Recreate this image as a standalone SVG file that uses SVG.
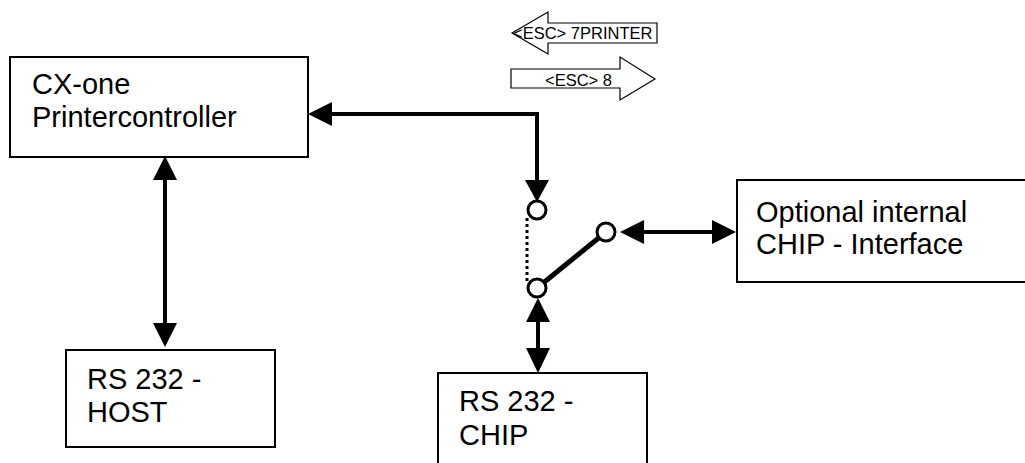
<svg xmlns="http://www.w3.org/2000/svg" width="1025" height="463" viewBox="0 0 1025 463">
<defs>
<style>
.box{fill:#fff;stroke:#000;stroke-width:2}
.t{font-family:"Liberation Sans",Arial,sans-serif;font-size:29px;fill:#000}
.s{font-family:"Liberation Sans",Arial,sans-serif;font-size:16.5px;fill:#000}
.ln{stroke:#000;stroke-width:4;fill:none}
.sw{fill:#fff;stroke:#000;stroke-width:3}
.ah{fill:#000}
.bl{fill:#fff;stroke:#000;stroke-width:1.2}
</style>
</defs>
<g id="cx-one">
<rect class="box" x="10" y="57" width="298" height="100"/>
<text class="t" x="32" y="94">CX-one</text>
<text class="t" x="32" y="127">Printercontroller</text>
</g>
<g id="rs232-host">
<rect class="box" x="66" y="350" width="209" height="97"/>
<text class="t" x="87" y="389">RS 232 -</text>
<text class="t" x="87" y="422">HOST</text>
</g>
<g id="rs232-chip">
<rect class="box" x="438" y="373" width="209" height="100"/>
<text class="t" x="459" y="411">RS 232 -</text>
<text class="t" x="459" y="445">CHIP</text>
</g>
<g id="optional">
<rect class="box" x="737" y="180" width="300" height="102"/>
<text class="t" x="756" y="222">Optional internal</text>
<text class="t" x="756" y="254">CHIP - Interface</text>
</g>
<g id="esc7">
<polygon class="bl" points="512,33 548,12 548,23 657,23 657,43 548,43 548,54"/>
<text class="s" x="513" y="39">&lt;ESC&gt; 7PRINTER</text>
</g>
<g id="esc8">
<polygon class="bl" points="511,69 620,69 620,57 655,79 620,100 620,88 511,88"/>
<text class="s" x="545" y="86">&lt;ESC&gt; 8</text>
</g>
<g id="connectors">
<line class="ln" x1="165" y1="178" x2="165" y2="325"/>
<polygon class="ah" points="165,156 153,180 177,180"/>
<polygon class="ah" points="165,347 153,323 177,323"/>
<polyline class="ln" points="330,114 537,114 537,182"/>
<polygon class="ah" points="308,114 332,102 332,126"/>
<polygon class="ah" points="537,202 525,180 549,180"/>
<line x1="527" y1="218" x2="527" y2="282" stroke="#000" stroke-width="3" stroke-dasharray="3,3"/>
<line x1="537" y1="288" x2="606" y2="232" stroke="#000" stroke-width="5"/>
<circle class="sw" cx="537" cy="210" r="9"/>
<circle class="sw" cx="537" cy="288" r="9"/>
<circle class="sw" cx="606" cy="232" r="9"/>
<line class="ln" x1="640" y1="232" x2="714" y2="232"/>
<polygon class="ah" points="620,232 644,220 644,244"/>
<polygon class="ah" points="736,232 712,220 712,244"/>
<line class="ln" x1="538" y1="318" x2="538" y2="352"/>
<polygon class="ah" points="538,298 526,322 550,322"/>
<polygon class="ah" points="538,373 526,348 550,348"/>
</g>
</svg>
